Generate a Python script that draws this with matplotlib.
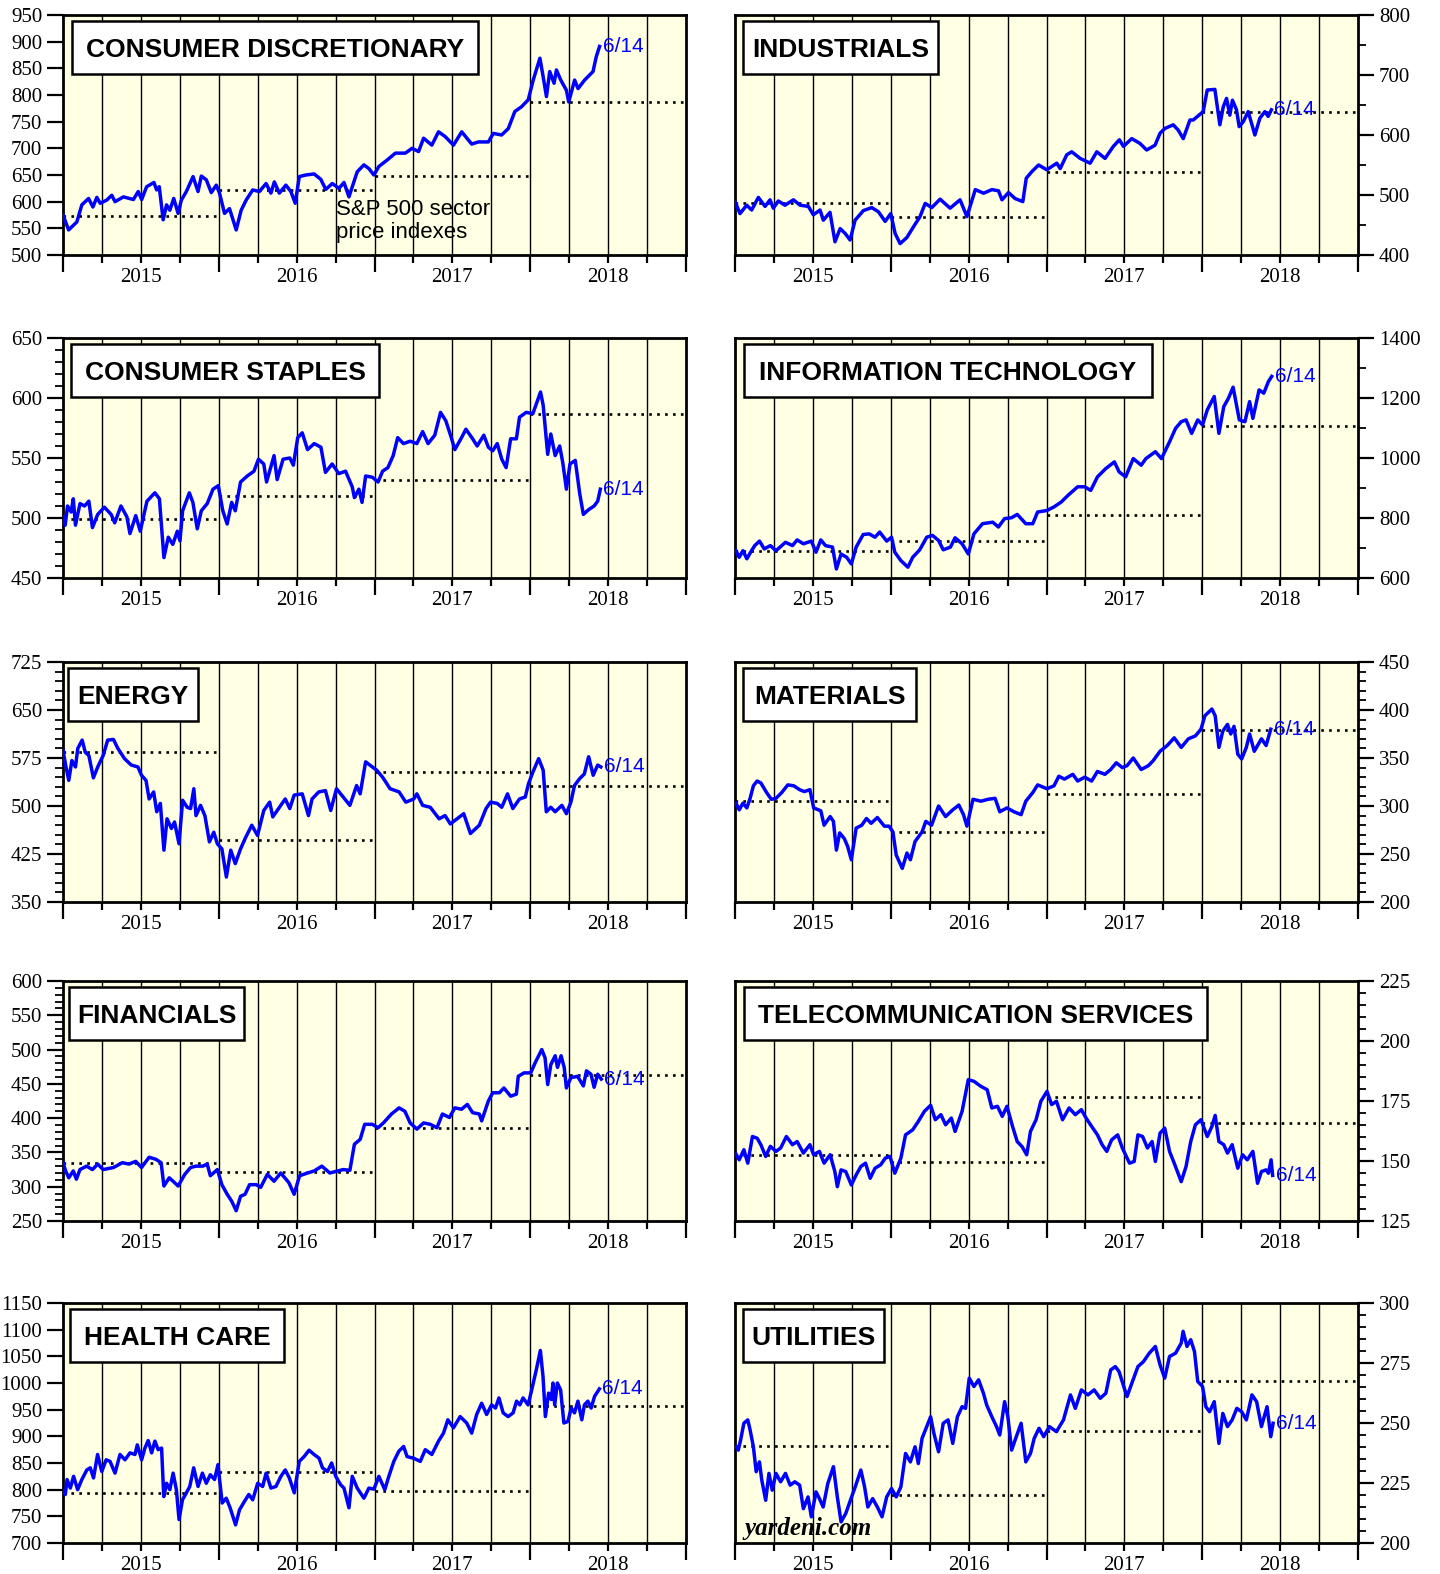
import matplotlib
matplotlib.use("Agg")
import matplotlib.pyplot as plt
import numpy as np
from matplotlib.patches import Rectangle
from matplotlib.ticker import FixedLocator, FuncFormatter, NullFormatter

plt.rcParams["font.family"] = ["Liberation Serif", "DejaVu Serif"]

# time axis: years after 1 Jan 2015, last point is 6/14/2018
# ---- Consumer Discretionary
cd_t = [0.000, 0.036, 0.089, 0.121, 0.164, 0.192, 0.217, 0.239, 0.281, 0.313, 0.334, 0.388, 0.452, 0.483,
        0.505, 0.537, 0.584, 0.601, 0.618, 0.643, 0.665, 0.686, 0.711, 0.739, 0.760, 0.792, 0.835, 0.867,
        0.888, 0.920, 0.952, 0.984, 1.005, 1.037, 1.069, 1.112, 1.144, 1.176, 1.218, 1.261, 1.304, 1.335,
        1.357, 1.389, 1.431, 1.463, 1.491, 1.517, 1.559, 1.612, 1.655, 1.687, 1.729, 1.772, 1.804, 1.836,
        1.889, 1.932, 1.964, 1.996, 2.028, 2.081, 2.134, 2.198, 2.241, 2.283, 2.315, 2.368, 2.411, 2.454,
        2.507, 2.560, 2.624, 2.667, 2.731, 2.763, 2.816, 2.859, 2.901, 2.944, 2.987, 3.019, 3.062, 3.083,
        3.104, 3.125, 3.153, 3.168, 3.196, 3.232, 3.247, 3.285, 3.307, 3.349, 3.403, 3.424, 3.445]
cd_v = [575, 547, 562, 594, 606, 590, 608, 597, 603, 612, 600, 609, 604, 619,
        604, 628, 636, 622, 628, 566, 594, 584, 606, 578, 603, 619, 647, 619,
        648, 641, 617, 631, 616, 578, 587, 547, 584, 603, 622, 619, 634, 616,
        637, 616, 631, 619, 597, 647, 650, 652, 642, 623, 634, 625, 636, 609,
        656, 669, 662, 650, 666, 678, 691, 691, 700, 694, 719, 706, 731, 722,
        706, 731, 708, 712, 712, 728, 725, 737, 769, 778, 791, 828, 869, 834,
        797, 844, 822, 847, 828, 809, 787, 828, 812, 828, 844, 872, 891]
cd_ref = [573, 621, 648, 786]

# ---- Industrials
ind_t = [0.000, 0.032, 0.075, 0.107, 0.150, 0.193, 0.225, 0.246, 0.278, 0.321, 0.375, 0.418, 0.471, 0.503,
         0.546, 0.567, 0.610, 0.642, 0.675, 0.707, 0.739, 0.771, 0.824, 0.878, 0.921, 0.964, 1.000, 1.028,
         1.060, 1.103, 1.146, 1.188, 1.221, 1.263, 1.317, 1.381, 1.445, 1.489, 1.543, 1.596, 1.650, 1.692,
         1.714, 1.756, 1.799, 1.848, 1.870, 1.906, 1.949, 2.002, 2.066, 2.088, 2.130, 2.162, 2.216, 2.280,
         2.323, 2.376, 2.429, 2.468, 2.494, 2.547, 2.600, 2.643, 2.697, 2.729, 2.761, 2.814, 2.846, 2.878,
         2.921, 2.942, 3.006, 3.032, 3.081, 3.113, 3.135, 3.156, 3.177, 3.194, 3.220, 3.237, 3.263, 3.295,
         3.338, 3.370, 3.402, 3.423, 3.444]
ind_v = [489, 469, 483, 475, 496, 481, 492, 478, 490, 483, 492, 483, 481, 467,
         475, 458, 471, 422, 444, 436, 425, 458, 474, 479, 472, 456, 469, 436,
         419, 429, 447, 464, 486, 479, 493, 478, 492, 464, 509, 503, 509, 507,
         492, 504, 494, 489, 528, 539, 550, 542, 553, 544, 567, 572, 561, 553,
         572, 561, 581, 592, 581, 594, 586, 575, 583, 603, 611, 617, 608, 594,
         625, 625, 639, 675, 676, 617, 647, 661, 633, 658, 642, 614, 622, 639,
         600, 628, 639, 631, 642]
ind_ref = [487, 464, 538, 638]

# ---- Consumer Staples
cs_t = [0.000, 0.014, 0.029, 0.052, 0.066, 0.080, 0.109, 0.138, 0.166, 0.189, 0.223, 0.266, 0.309, 0.332,
        0.372, 0.410, 0.430, 0.467, 0.496, 0.539, 0.590, 0.619, 0.648, 0.676, 0.705, 0.734, 0.751, 0.768,
        0.811, 0.834, 0.862, 0.888, 0.926, 0.963, 0.997, 1.026, 1.054, 1.083, 1.106, 1.140, 1.183, 1.226,
        1.255, 1.289, 1.307, 1.355, 1.375, 1.413, 1.456, 1.479, 1.507, 1.536, 1.570, 1.613, 1.656, 1.685,
        1.728, 1.771, 1.814, 1.857, 1.871, 1.900, 1.920, 1.943, 1.986, 2.023, 2.052, 2.086, 2.120, 2.149,
        2.186, 2.229, 2.272, 2.309, 2.344, 2.387, 2.424, 2.458, 2.493, 2.516, 2.559, 2.587, 2.630, 2.659,
        2.702, 2.731, 2.759, 2.788, 2.817, 2.845, 2.874, 2.911, 2.931, 2.974, 3.017, 3.066, 3.083, 3.112,
        3.132, 3.160, 3.189, 3.209, 3.232, 3.255, 3.289, 3.318, 3.341, 3.375, 3.410, 3.433, 3.450]
cs_v = [501, 494, 510, 505, 516, 494, 512, 510, 514, 492, 503, 509, 503, 496,
        510, 501, 487, 502, 489, 514, 521, 516, 467, 484, 478, 489, 481, 506,
        521, 513, 491, 506, 512, 524, 527, 506, 495, 513, 506, 530, 535, 539,
        549, 545, 530, 552, 532, 549, 550, 544, 567, 571, 557, 562, 559, 538,
        545, 537, 539, 526, 517, 524, 513, 535, 534, 530, 539, 542, 552, 567,
        562, 564, 562, 572, 562, 569, 588, 581, 567, 557, 567, 574, 566, 560,
        569, 559, 556, 562, 549, 542, 566, 566, 584, 588, 587, 605, 594, 553,
        570, 552, 560, 546, 524, 545, 548, 520, 503, 507, 510, 514, 524]
cs_ref = [499, 518, 532, 587]

# ---- Information Technology
it_t = [0.006, 0.027, 0.051, 0.076, 0.106, 0.127, 0.157, 0.188, 0.227, 0.263, 0.324, 0.369, 0.399, 0.439,
        0.490, 0.520, 0.551, 0.581, 0.626, 0.651, 0.681, 0.717, 0.747, 0.778, 0.823, 0.862, 0.899, 0.929,
        0.974, 1.005, 1.026, 1.065, 1.110, 1.141, 1.186, 1.231, 1.268, 1.307, 1.337, 1.383, 1.413, 1.458,
        1.498, 1.534, 1.589, 1.655, 1.691, 1.731, 1.776, 1.812, 1.867, 1.912, 1.943, 2.003, 2.048, 2.094,
        2.139, 2.200, 2.245, 2.284, 2.327, 2.381, 2.436, 2.466, 2.508, 2.557, 2.608, 2.638, 2.699, 2.738,
        2.790, 2.829, 2.865, 2.896, 2.932, 2.971, 3.002, 3.032, 3.077, 3.107, 3.138, 3.168, 3.198, 3.238,
        3.274, 3.304, 3.325, 3.365, 3.395, 3.425, 3.446]
it_v = [691, 669, 691, 664, 691, 708, 723, 697, 708, 691, 719, 708, 727, 714,
        723, 686, 727, 708, 703, 630, 680, 669, 647, 703, 745, 747, 736, 753,
        723, 736, 686, 658, 636, 669, 694, 736, 742, 725, 694, 703, 734, 714,
        680, 747, 781, 786, 770, 798, 801, 812, 781, 781, 820, 825, 837, 853,
        876, 904, 904, 892, 937, 965, 987, 954, 937, 998, 976, 998, 1021, 998,
        1054, 1099, 1121, 1127, 1082, 1127, 1110, 1160, 1205, 1082, 1171, 1199, 1236, 1127,
        1121, 1188, 1132, 1227, 1216, 1255, 1272]
it_ref = [691, 723, 809, 1108]

# ---- Energy
en_t = [0.000, 0.017, 0.037, 0.057, 0.080, 0.095, 0.123, 0.143, 0.166, 0.195, 0.223, 0.258, 0.287, 0.324,
        0.352, 0.395, 0.438, 0.481, 0.504, 0.533, 0.553, 0.582, 0.602, 0.625, 0.648, 0.668, 0.696, 0.716,
        0.745, 0.768, 0.797, 0.819, 0.840, 0.854, 0.883, 0.911, 0.940, 0.968, 0.991, 1.020, 1.049, 1.077,
        1.106, 1.140, 1.169, 1.212, 1.249, 1.289, 1.327, 1.347, 1.384, 1.427, 1.456, 1.484, 1.536, 1.576,
        1.599, 1.642, 1.685, 1.719, 1.756, 1.799, 1.842, 1.885, 1.908, 1.943, 1.986, 2.014, 2.052, 2.100,
        2.158, 2.201, 2.252, 2.272, 2.309, 2.358, 2.415, 2.453, 2.487, 2.530, 2.573, 2.616, 2.673, 2.716,
        2.745, 2.788, 2.817, 2.854, 2.888, 2.931, 2.968, 2.989, 3.017, 3.054, 3.083, 3.103, 3.132, 3.160,
        3.203, 3.232, 3.261, 3.284, 3.318, 3.347, 3.375, 3.404, 3.433, 3.453]
en_v = [587, 564, 540, 571, 561, 590, 603, 584, 579, 544, 561, 579, 603, 604,
        590, 574, 564, 561, 548, 540, 511, 522, 491, 504, 431, 480, 465, 475,
        441, 509, 498, 496, 527, 485, 501, 485, 444, 459, 441, 433, 389, 431,
        410, 433, 449, 470, 454, 493, 506, 483, 496, 511, 496, 517, 519, 485,
        511, 522, 524, 493, 527, 514, 501, 532, 519, 569, 561, 556, 545, 527,
        522, 506, 511, 519, 501, 498, 480, 485, 472, 480, 488, 457, 470, 496,
        506, 504, 498, 519, 496, 511, 514, 535, 553, 574, 556, 491, 498, 491,
        501, 488, 506, 532, 543, 550, 577, 548, 564, 561]
en_ref = [585, 447, 553, 532]

# ---- Materials
mat_t = [0.006, 0.027, 0.051, 0.076, 0.097, 0.118, 0.142, 0.166, 0.203, 0.233, 0.263, 0.300, 0.339, 0.378,
         0.415, 0.445, 0.481, 0.505, 0.551, 0.572, 0.611, 0.632, 0.651, 0.672, 0.702, 0.723, 0.747, 0.778,
         0.814, 0.844, 0.874, 0.914, 0.959, 0.989, 1.014, 1.035, 1.074, 1.104, 1.126, 1.156, 1.201, 1.225,
         1.262, 1.307, 1.352, 1.398, 1.437, 1.467, 1.489, 1.528, 1.579, 1.625, 1.670, 1.700, 1.746, 1.791,
         1.837, 1.867, 1.912, 1.943, 2.003, 2.048, 2.079, 2.115, 2.169, 2.200, 2.245, 2.290, 2.327, 2.375,
         2.412, 2.448, 2.487, 2.517, 2.557, 2.608, 2.654, 2.684, 2.729, 2.775, 2.820, 2.865, 2.911, 2.956,
         2.992, 3.017, 3.062, 3.083, 3.107, 3.132, 3.162, 3.183, 3.204, 3.228, 3.253, 3.283, 3.304, 3.334,
         3.380, 3.410, 3.440]
mat_v = [303, 296, 303, 298, 308, 321, 326, 324, 314, 307, 308, 314, 322, 321,
         317, 315, 317, 298, 295, 280, 289, 284, 254, 272, 266, 258, 244, 277,
         280, 287, 282, 288, 279, 279, 273, 249, 235, 251, 244, 263, 273, 284,
         280, 300, 289, 296, 301, 291, 279, 307, 305, 307, 308, 294, 298, 294,
         291, 305, 314, 322, 318, 321, 331, 328, 333, 326, 330, 326, 336, 333,
         338, 345, 340, 342, 350, 338, 342, 347, 357, 363, 371, 361, 370, 373,
         380, 394, 401, 394, 361, 378, 385, 375, 383, 354, 349, 361, 375, 357,
         370, 363, 380]
mat_ref = [305, 273, 312, 379]

# ---- Financials
fin_t = [0.000, 0.017, 0.037, 0.066, 0.086, 0.109, 0.152, 0.189, 0.223, 0.258, 0.324, 0.381, 0.424, 0.467,
         0.504, 0.553, 0.596, 0.630, 0.648, 0.682, 0.716, 0.739, 0.782, 0.819, 0.854, 0.897, 0.926, 0.946,
         0.991, 1.020, 1.054, 1.083, 1.112, 1.140, 1.169, 1.198, 1.241, 1.269, 1.312, 1.355, 1.398, 1.450,
         1.484, 1.519, 1.570, 1.613, 1.662, 1.713, 1.765, 1.799, 1.842, 1.871, 1.908, 1.937, 1.986, 2.023,
         2.057, 2.109, 2.158, 2.195, 2.229, 2.272, 2.315, 2.358, 2.401, 2.436, 2.481, 2.516, 2.559, 2.596,
         2.630, 2.673, 2.688, 2.731, 2.759, 2.802, 2.831, 2.874, 2.911, 2.923, 2.960, 3.003, 3.032, 3.074,
         3.095, 3.112, 3.132, 3.160, 3.175, 3.198, 3.218, 3.232, 3.261, 3.304, 3.341, 3.361, 3.390, 3.410,
         3.433, 3.456]
fin_v = [335, 323, 313, 323, 311, 325, 330, 325, 333, 325, 328, 335, 333, 337,
         328, 343, 340, 335, 301, 313, 306, 301, 318, 328, 330, 330, 333, 316,
         325, 303, 289, 279, 265, 286, 289, 303, 303, 299, 318, 308, 320, 306,
         289, 316, 320, 323, 330, 320, 323, 325, 324, 362, 369, 391, 391, 386,
         393, 406, 415, 410, 393, 384, 393, 391, 386, 406, 401, 415, 413, 420,
         408, 406, 396, 425, 437, 437, 444, 432, 435, 461, 466, 466, 481, 500,
         488, 449, 478, 491, 474, 491, 474, 444, 459, 461, 447, 469, 464, 445,
         464, 457]
fin_ref = [334, 321, 386, 463]

# ---- Telecommunication Services
tel_t = [0.006, 0.027, 0.057, 0.082, 0.112, 0.142, 0.166, 0.197, 0.227, 0.263, 0.293, 0.330, 0.369, 0.399,
         0.439, 0.481, 0.505, 0.542, 0.572, 0.611, 0.641, 0.657, 0.681, 0.711, 0.747, 0.778, 0.808, 0.838,
         0.868, 0.899, 0.935, 0.965, 0.995, 1.026, 1.065, 1.095, 1.141, 1.177, 1.216, 1.256, 1.286, 1.322,
         1.352, 1.389, 1.413, 1.458, 1.498, 1.534, 1.579, 1.619, 1.649, 1.685, 1.716, 1.746, 1.782, 1.812,
         1.843, 1.873, 1.897, 1.933, 1.964, 2.003, 2.033, 2.064, 2.103, 2.145, 2.185, 2.224, 2.254, 2.290,
         2.327, 2.357, 2.387, 2.418, 2.457, 2.487, 2.533, 2.563, 2.587, 2.617, 2.648, 2.678, 2.699, 2.729,
         2.759, 2.790, 2.820, 2.865, 2.896, 2.926, 2.956, 2.992, 3.032, 3.062, 3.083, 3.107, 3.138, 3.162,
         3.192, 3.228, 3.259, 3.289, 3.325, 3.355, 3.380, 3.410, 3.425, 3.442, 3.452]
tel_v = [152.9, 150.5, 154.7, 149.1, 160.2, 159.5, 156.8, 151.9, 156.1, 154.0, 155.4, 160.2, 156.8, 158.1,
         153.3, 156.8, 152.6, 154.0, 149.1, 152.6, 145.6, 139.3, 146.3, 145.6, 140.0, 144.2, 147.7, 149.1,
         142.8, 147.0, 148.4, 151.2, 151.9, 144.9, 151.2, 160.9, 163.0, 166.5, 170.7, 173.2, 167.2, 169.3,
         165.1, 167.9, 162.3, 170.7, 183.9, 183.2, 181.1, 179.7, 172.1, 172.8, 168.6, 172.8, 164.4, 158.1,
         156.0, 152.6, 162.3, 167.2, 174.9, 179.0, 173.5, 174.9, 167.2, 172.1, 169.3, 171.4, 167.9, 164.4,
         160.9, 156.8, 154.0, 158.8, 160.9, 155.4, 149.1, 149.8, 160.9, 160.2, 155.4, 158.1, 149.8, 161.6,
         163.7, 154.0, 149.1, 141.4, 147.7, 158.1, 165.1, 167.2, 160.2, 164.4, 169.0, 158.1, 156.8, 153.3,
         156.8, 147.0, 152.6, 150.5, 154.0, 140.7, 145.6, 146.3, 144.9, 150.5, 144.0]
tel_ref = [152.6, 149.5, 176.5, 165.8]

# ---- Health Care
hc_t = [0.000, 0.015, 0.026, 0.047, 0.068, 0.094, 0.121, 0.153, 0.175, 0.196, 0.222, 0.249, 0.277, 0.302,
        0.334, 0.366, 0.398, 0.430, 0.462, 0.477, 0.505, 0.526, 0.547, 0.569, 0.590, 0.611, 0.633, 0.647,
        0.665, 0.686, 0.707, 0.728, 0.745, 0.767, 0.792, 0.814, 0.839, 0.867, 0.895, 0.920, 0.946, 0.973,
        0.995, 1.022, 1.048, 1.073, 1.108, 1.133, 1.165, 1.193, 1.218, 1.250, 1.282, 1.304, 1.335, 1.367,
        1.399, 1.427, 1.453, 1.485, 1.517, 1.548, 1.580, 1.612, 1.644, 1.666, 1.698, 1.725, 1.751, 1.783,
        1.804, 1.836, 1.857, 1.889, 1.932, 1.964, 1.996, 2.028, 2.066, 2.092, 2.124, 2.156, 2.187, 2.209,
        2.251, 2.294, 2.326, 2.368, 2.411, 2.443, 2.471, 2.507, 2.550, 2.592, 2.624, 2.656, 2.688, 2.720,
        2.752, 2.777, 2.799, 2.826, 2.858, 2.890, 2.912, 2.933, 2.954, 2.986, 3.007, 3.039, 3.065, 3.082,
        3.097, 3.118, 3.135, 3.146, 3.157, 3.174, 3.195, 3.216, 3.242, 3.263, 3.284, 3.306, 3.331, 3.348,
        3.370, 3.391, 3.413, 3.444]
hc_v = [797, 791, 819, 803, 825, 800, 819, 837, 841, 822, 866, 834, 856, 853,
        831, 866, 856, 869, 866, 884, 856, 878, 892, 869, 891, 875, 878, 787,
        812, 800, 831, 800, 744, 781, 794, 806, 841, 806, 831, 812, 828, 819,
        847, 775, 784, 766, 734, 762, 778, 791, 781, 812, 806, 831, 803, 806,
        825, 837, 822, 794, 853, 862, 874, 866, 859, 841, 834, 850, 825, 809,
        803, 766, 825, 803, 784, 803, 801, 825, 800, 825, 853, 872, 881, 862,
        859, 853, 875, 866, 891, 906, 931, 916, 937, 925, 906, 941, 962, 941,
        959, 953, 972, 944, 937, 944, 966, 959, 972, 959, 984, 1025, 1061, 1012,
        937, 981, 969, 1000, 959, 1000, 987, 925, 928, 953, 944, 966, 931, 959,
        966, 953, 975, 989]
hc_ref = [794, 834, 798, 957]

# ---- Utilities
ut_t = [0.006, 0.021, 0.036, 0.057, 0.082, 0.097, 0.118, 0.136, 0.157, 0.172, 0.197, 0.218, 0.239, 0.263,
        0.293, 0.324, 0.354, 0.384, 0.415, 0.439, 0.469, 0.490, 0.520, 0.542, 0.566, 0.596, 0.632, 0.657,
        0.681, 0.711, 0.741, 0.772, 0.808, 0.832, 0.853, 0.884, 0.914, 0.944, 0.974, 1.005, 1.035, 1.065,
        1.095, 1.126, 1.156, 1.177, 1.201, 1.231, 1.256, 1.277, 1.307, 1.337, 1.368, 1.398, 1.428, 1.458,
        1.480, 1.504, 1.534, 1.564, 1.595, 1.616, 1.649, 1.679, 1.700, 1.731, 1.752, 1.776, 1.806, 1.837,
        1.867, 1.897, 1.921, 1.952, 1.982, 2.018, 2.064, 2.109, 2.154, 2.185, 2.224, 2.266, 2.306, 2.345,
        2.381, 2.412, 2.442, 2.466, 2.496, 2.517, 2.548, 2.587, 2.623, 2.660, 2.699, 2.729, 2.759, 2.790,
        2.829, 2.865, 2.877, 2.902, 2.926, 2.950, 2.971, 3.002, 3.023, 3.047, 3.077, 3.107, 3.132, 3.162,
        3.192, 3.222, 3.253, 3.283, 3.319, 3.349, 3.380, 3.416, 3.440, 3.455]
ut_v = [240.1, 238.7, 242.9, 249.9, 251.3, 247.1, 240.1, 229.7, 233.8, 226.2, 217.8, 229.0, 222.0, 229.0,
        225.5, 229.0, 224.1, 225.5, 224.1, 214.3, 219.2, 210.9, 221.3, 218.5, 215.0, 224.8, 231.8, 219.2,
        208.8, 212.3, 217.8, 223.4, 230.4, 223.4, 215.0, 218.5, 215.0, 210.9, 219.2, 222.7, 219.2, 223.4,
        237.3, 233.8, 240.1, 233.1, 243.6, 248.5, 252.6, 245.7, 238.0, 249.9, 251.3, 241.5, 252.6, 256.8,
        256.1, 268.7, 265.2, 268.0, 262.4, 257.5, 252.6, 248.5, 245.0, 258.9, 252.6, 238.7, 244.3, 249.9,
        233.8, 237.3, 243.6, 247.8, 244.3, 248.5, 246.4, 251.3, 261.7, 256.1, 263.8, 261.7, 263.8, 260.3,
        262.4, 272.1, 273.5, 271.4, 265.2, 261.0, 266.6, 273.5, 275.6, 279.1, 281.9, 274.2, 268.7, 277.7,
        279.1, 283.3, 288.2, 281.9, 284.7, 279.8, 267.3, 265.2, 256.8, 254.7, 258.9, 241.5, 254.0, 248.5,
        251.3, 256.1, 254.7, 251.3, 261.7, 258.9, 248.5, 256.8, 244.3, 249.9]
ut_ref = [240.4, 220.2, 246.8, 267.5]

# ---- layout (pixels)
W, H = 1440, 1574
COL_X = [63, 735]
COL_W = 623
ROW_Y = [15, 338, 662, 981, 1303]
ROW_H = 240
BG = "#FFFFE3"
BLUE = "#0000FF"
SANS = ["Liberation Sans", "DejaVu Sans"]

# name, times, values, year-end levels, (ymin, ymax, major, minor), column, row, (box left px, box width px)
panels = [
    ("CONSUMER DISCRETIONARY", cd_t, cd_v, cd_ref, (500, 950, 50, None), 0, 0, (9, 406)),
    ("INDUSTRIALS", ind_t, ind_v, ind_ref, (400, 800, 100, 50), 1, 0, (8, 195)),
    ("CONSUMER STAPLES", cs_t, cs_v, cs_ref, (450, 650, 50, 10), 0, 1, (8, 308)),
    ("INFORMATION TECHNOLOGY", it_t, it_v, it_ref, (600, 1400, 200, 100), 1, 1, (9, 408)),
    ("ENERGY", en_t, en_v, en_ref, (350, 725, 75, 15), 0, 2, (5, 130)),
    ("MATERIALS", mat_t, mat_v, mat_ref, (200, 450, 50, 10), 1, 2, (8, 173)),
    ("FINANCIALS", fin_t, fin_v, fin_ref, (250, 600, 50, 10), 0, 3, (6, 175)),
    ("TELECOMMUNICATION SERVICES", tel_t, tel_v, tel_ref, (125, 225, 25, 5), 1, 3, (9, 463)),
    ("HEALTH CARE", hc_t, hc_v, hc_ref, (700, 1150, 50, None), 0, 4, (7, 214)),
    ("UTILITIES", ut_t, ut_v, ut_ref, (200, 300, 25, 5), 1, 4, (8, 141)),
]

fig = plt.figure(figsize=(W / 100, H / 100), dpi=100)


def year_label(val, pos):
    if abs(val % 1 - 0.5) < 1e-6:
        return str(int(val))
    return ""


axes = {}
for name, t, v, ref, (y0, y1, major, minor), col, row, (bx_px, bw_px) in panels:
    left = COL_X[col] / W
    bottom = 1 - (ROW_Y[row] + ROW_H) / H
    ax = fig.add_axes([left, bottom, COL_W / W, ROW_H / H])
    axes[name] = ax
    ax.set_facecolor(BG)
    ax.set_xlim(2015, 2019)
    ax.set_ylim(y0, y1)

    # quarterly vertical lines
    for q in range(1, 16):
        ax.axvline(2015 + q / 4, color="black", lw=1.0, zorder=1)

    # dotted year-end reference levels, one per calendar year
    for i, lvl in enumerate(ref):
        ax.plot([2015 + i, 2016 + i], [lvl, lvl], color="black", lw=1.9,
                linestyle=(0, (1, 2.0)), zorder=2)

    x = [2015 + d for d in t]
    ax.plot(x, v, color=BLUE, lw=2.5, zorder=3, solid_joinstyle="round")
    ax.annotate("6/14", (x[-1], v[-1]), xytext=(3, 0), textcoords="offset pixels",
                color=BLUE, fontsize=15, va="center", ha="left", family=SANS, zorder=4)

    for s in ax.spines.values():
        s.set_linewidth(2.0)

    # x axis: long ticks at years, short at quarters, year label mid-year
    ax.xaxis.set_major_locator(FixedLocator([2015, 2016, 2017, 2018, 2019]))
    ax.xaxis.set_major_formatter(NullFormatter())
    ax.xaxis.set_minor_locator(FixedLocator([2015 + q / 4 for q in range(16) if q % 4]))
    ax.xaxis.set_minor_formatter(FuncFormatter(year_label))
    ax.tick_params(axis="x", which="major", length=12, width=1.6, direction="out")
    ax.tick_params(axis="x", which="minor", length=5.8, width=1.6, direction="out",
                   pad=3.5, labelsize=15)

    # y axis ticks counted from the bottom of the scale
    ax.yaxis.set_major_locator(FixedLocator(np.arange(y0, y1 + major / 2, major)))
    if minor:
        ax.yaxis.set_minor_locator(FixedLocator(np.arange(y0, y1 + minor / 2, minor)))
    else:
        ax.yaxis.set_minor_locator(FixedLocator([]))
    if col == 1:
        ax.yaxis.tick_right()
    ax.tick_params(axis="y", which="major", length=11.5, width=1.6, direction="out",
                   pad=3.5, labelsize=15)
    ax.tick_params(axis="y", which="minor", length=5.5, width=1.3, direction="out")

    # title box
    bx, bw = bx_px / COL_W, bw_px / COL_W
    bh = 53 / ROW_H
    by = 1 - (6 + 53) / ROW_H
    ax.add_patch(Rectangle((bx, by), bw, bh, transform=ax.transAxes, facecolor="white",
                           edgecolor="black", lw=1.8, zorder=5, clip_on=False))
    ax.text(bx + bw / 2, 1 - 42 / ROW_H, name, transform=ax.transAxes, ha="center",
            va="baseline", fontsize=19, fontweight="bold", family=SANS, zorder=6)

ax = axes["CONSUMER DISCRETIONARY"]
ax.text(0.438, 1 - 200 / ROW_H, "S&P 500 sector", transform=ax.transAxes, fontsize=16,
        family=SANS, ha="left", va="baseline", zorder=4)
ax.text(0.438, 1 - 223 / ROW_H, "price indexes", transform=ax.transAxes, fontsize=16,
        family=SANS, ha="left", va="baseline", zorder=4)

ax = axes["UTILITIES"]
ax.text(0.016, 8 / ROW_H, "yardeni.com", transform=ax.transAxes, fontsize=18,
        fontweight="bold", style="italic", ha="left", va="baseline", zorder=4)

fig.savefig("out.png", dpi=100, facecolor="white")
